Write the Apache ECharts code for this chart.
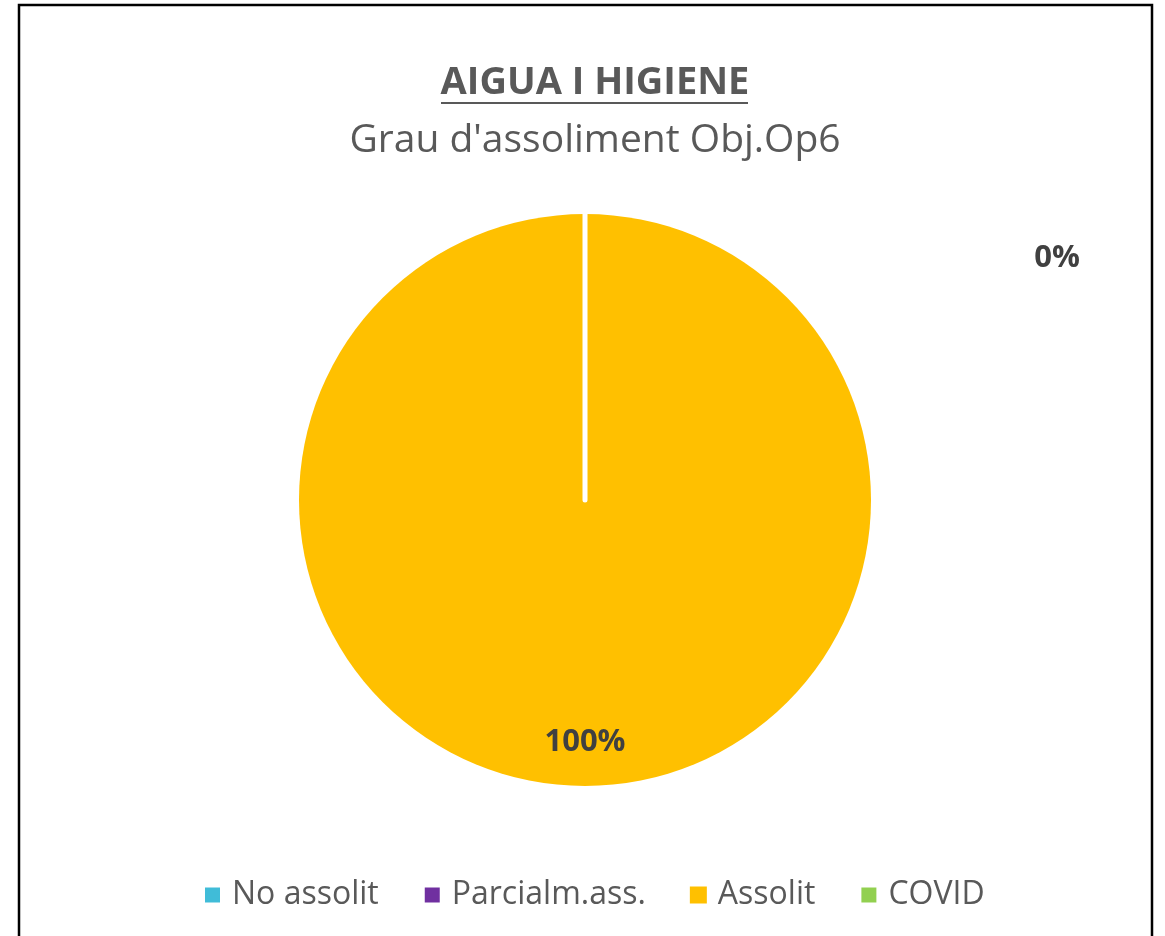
<!DOCTYPE html>
<html>
<head>
<meta charset="utf-8">
<script src="https://cdn.jsdelivr.net/npm/echarts@6/dist/echarts.min.js"></script>
<style>
  html, body { margin: 0; padding: 0; background: #fff; }
  #main { width: 1165px; height: 936px; }
</style>
</head>
<body>
<div id="main"></div>
<script>
// dades del gràfic
var categories = ['No assolit', 'Parcialm.ass.', 'Assolit', 'COVID'];
var values = [0, 0, 100, 0];
var colors = ['#40BCD8', '#7030A0', '#FFC000', '#92D050'];

var titleText = 'AIGUA I HIGIENE';
var subText = "Grau d'assoliment Obj.Op6";

var textColor = '#595959';
var labelColor = '#404040';
var font = '"Open Sans", Lato, sans-serif';

// only one label for the stacked zero slices
var firstZero = values.indexOf(0);
var pieData = categories.map(function (name, i) {
    return {
        name: name,
        value: values[i],
        itemStyle: {
            color: colors[i],
            borderColor: '#fff',
            borderWidth: values[i] === 0 ? 5 : 0
        },
        label: { show: values[i] > 0 || i === firstZero }
    };
});

var option = {
    animation: false,
    backgroundColor: '#fff',
    title: [
        {
            text: titleText,
            left: 590,
            textAlign: 'center',
            top: 59,
            textStyle: { fontFamily: font, fontWeight: 'bold', fontSize: 38, color: textColor }
        },
        {
            text: subText,
            left: 590,
            textAlign: 'center',
            top: 116,
            textStyle: { fontFamily: font, fontWeight: 'normal', fontSize: 39, color: textColor }
        }
    ],
    legend: {
        data: categories,
        bottom: 20,
        left: 198,
        icon: 'rect',
        itemWidth: 17,
        itemHeight: 17,
        itemGap: 44,
        textStyle: { fontFamily: font, fontSize: 32, color: textColor, padding: [0, 0, 0, 6] }
    },
    graphic: [
        {   // marc del gràfic
            type: 'rect',
            shape: { x: 19, y: 5, width: 1133, height: 980 },
            style: { fill: 'none', stroke: '#000', lineWidth: 2.5 },
            silent: true
        },
        {   // subratllat del títol
            type: 'line',
            shape: { x1: 441, y1: 103, x2: 748, y2: 103 },
            style: { stroke: textColor, lineWidth: 2 },
            silent: true
        }
    ],
    series: [
        {
            type: 'pie',
            center: [585, 500],
            radius: 286,
            startAngle: 90,
            clockwise: true,
            avoidLabelOverlap: false,
            label: {
                position: 'inside',
                formatter: '{d}%',
                fontFamily: font,
                fontWeight: 'bold',
                fontSize: 31,
                color: labelColor
            },
            labelLine: { show: false },
            labelLayout: function (params) {
                if (values[params.dataIndex] > 0) {
                    return { x: 585, y: 742, align: 'center', verticalAlign: 'middle' };
                }
                return { x: 1057, y: 258, align: 'center', verticalAlign: 'middle' };
            },
            emphasis: { disabled: true },
            data: pieData
        }
    ]
};

var chart = echarts.init(document.getElementById('main'));
chart.setOption(option);
</script>
</body>
</html>
